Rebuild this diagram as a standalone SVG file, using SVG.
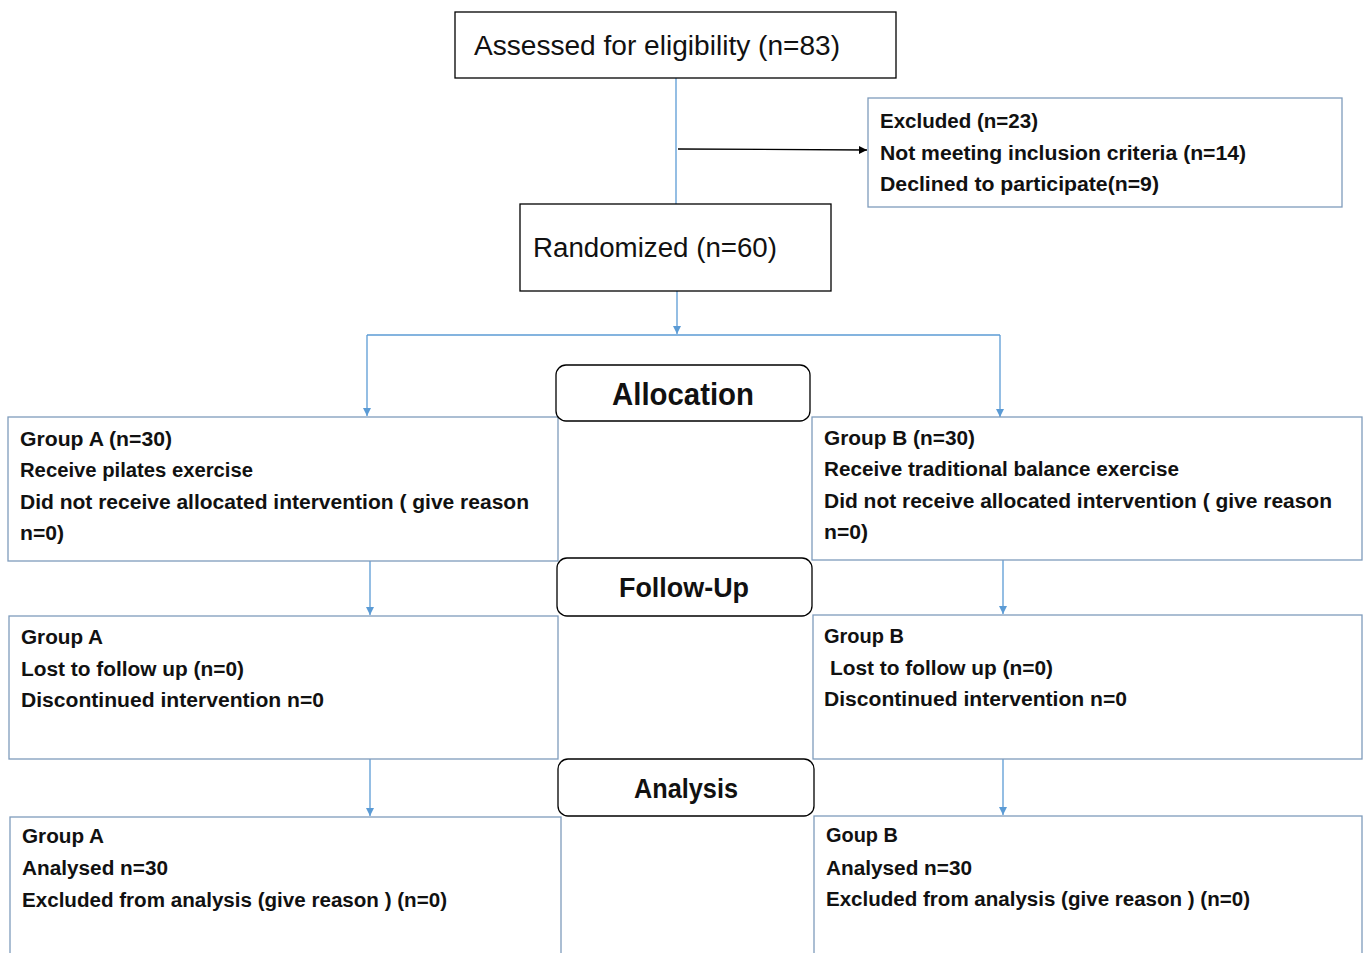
<svg xmlns="http://www.w3.org/2000/svg" width="1368" height="953" viewBox="0 0 1368 953">
<style>
.box{fill:#fff;stroke:#000;stroke-width:1.3}
.gbox{fill:#fff;stroke:#7f9cbc;stroke-width:1.3}
.rbox{fill:#fff;stroke:#000;stroke-width:1.3}
.t{font-family:"Liberation Sans",Arial,sans-serif;font-size:20px;font-weight:bold;fill:#111}
.big{font-family:"Liberation Sans",Arial,sans-serif;font-size:27px;fill:#111}
.hd{font-family:"Liberation Sans",Arial,sans-serif;font-weight:bold;fill:#111;text-anchor:middle}
.c{fill:none;stroke:#5b9bd5;stroke-width:1.3}
</style>
<defs>
<marker id="ab" markerWidth="10" markerHeight="10" refX="9" refY="5" orient="auto" markerUnits="userSpaceOnUse"><path d="M1,1 L9,5 L1,9 Z" fill="#5b9bd5"/></marker>
<marker id="ak" markerWidth="10" markerHeight="10" refX="9" refY="5" orient="auto" markerUnits="userSpaceOnUse"><path d="M1,1 L9,5 L1,9 Z" fill="#000"/></marker>
</defs>
<rect width="1368" height="953" fill="#fff"/>
<g id="connectors">
<line class="c" x1="676" y1="78" x2="676" y2="204"/>
<line x1="678" y1="149" x2="867" y2="150" stroke="#000" stroke-width="1.3" marker-end="url(#ak)"/>
<line class="c" x1="677" y1="291" x2="677" y2="334" marker-end="url(#ab)"/>
<line class="c" x1="367" y1="335" x2="1000" y2="335"/>
<line class="c" x1="367" y1="335" x2="367" y2="416" marker-end="url(#ab)"/>
<line class="c" x1="1000" y1="335" x2="1000" y2="417" marker-end="url(#ab)"/>
<line class="c" x1="370" y1="561" x2="370" y2="615" marker-end="url(#ab)"/>
<line class="c" x1="1003" y1="560" x2="1003" y2="614" marker-end="url(#ab)"/>
<line class="c" x1="370" y1="759" x2="370" y2="816" marker-end="url(#ab)"/>
<line class="c" x1="1003" y1="759" x2="1003" y2="815" marker-end="url(#ab)"/>
</g>
<g id="assessed">
<rect class="box" x="455" y="12" width="441" height="66"/>
<text class="big" x="474" y="55" textLength="366" lengthAdjust="spacingAndGlyphs">Assessed for eligibility (n=83)</text>
</g>
<g id="excluded">
<rect class="gbox" x="868" y="98" width="474" height="109"/>
<text class="t" x="880" y="128" textLength="158" lengthAdjust="spacingAndGlyphs">Excluded (n=23)</text>
<text class="t" x="880" y="160" textLength="366" lengthAdjust="spacingAndGlyphs">Not meeting inclusion criteria (n=14)</text>
<text class="t" x="880" y="191" textLength="279" lengthAdjust="spacingAndGlyphs">Declined to participate(n=9)</text>
</g>
<g id="randomized">
<rect class="box" x="520" y="204" width="311" height="87"/>
<text class="big" x="533" y="257" textLength="244" lengthAdjust="spacingAndGlyphs">Randomized (n=60)</text>
</g>
<g id="groupA-alloc">
<rect class="gbox" x="8" y="417" width="550" height="144"/>
<text class="t" x="20" y="446" textLength="152" lengthAdjust="spacingAndGlyphs">Group A (n=30)</text>
<text class="t" x="20" y="477" textLength="233" lengthAdjust="spacingAndGlyphs">Receive pilates exercise</text>
<text class="t" x="20" y="509" textLength="509" lengthAdjust="spacingAndGlyphs">Did not receive allocated intervention ( give reason</text>
<text class="t" x="20" y="540" textLength="44" lengthAdjust="spacingAndGlyphs">n=0)</text>
</g>
<g id="groupB-alloc">
<rect class="gbox" x="812" y="417" width="550" height="143"/>
<text class="t" x="824" y="445" textLength="151" lengthAdjust="spacingAndGlyphs">Group B (n=30)</text>
<text class="t" x="824" y="476" textLength="355" lengthAdjust="spacingAndGlyphs">Receive traditional balance exercise</text>
<text class="t" x="824" y="508" textLength="508" lengthAdjust="spacingAndGlyphs">Did not receive allocated intervention ( give reason</text>
<text class="t" x="824" y="539" textLength="44" lengthAdjust="spacingAndGlyphs">n=0)</text>
</g>
<g id="allocation">
<rect class="rbox" x="556" y="365" width="254" height="56" rx="10"/>
<text class="hd" x="683" y="405" font-size="32" textLength="142" lengthAdjust="spacingAndGlyphs">Allocation</text>
</g>
<g id="groupA-follow">
<rect class="gbox" x="9" y="616" width="549" height="143"/>
<text class="t" x="21" y="644" textLength="82" lengthAdjust="spacingAndGlyphs">Group A</text>
<text class="t" x="21" y="676" textLength="223" lengthAdjust="spacingAndGlyphs">Lost to follow up (n=0)</text>
<text class="t" x="21" y="707" textLength="303" lengthAdjust="spacingAndGlyphs">Discontinued intervention n=0</text>
</g>
<g id="groupB-follow">
<rect class="gbox" x="813" y="615" width="549" height="144"/>
<text class="t" x="824" y="643" textLength="80" lengthAdjust="spacingAndGlyphs">Group B</text>
<text class="t" x="830" y="675" textLength="223" lengthAdjust="spacingAndGlyphs">Lost to follow up (n=0)</text>
<text class="t" x="824" y="706" textLength="303" lengthAdjust="spacingAndGlyphs">Discontinued intervention n=0</text>
</g>
<g id="followup">
<rect class="rbox" x="557" y="558" width="255" height="58" rx="10"/>
<text class="hd" x="684" y="597" font-size="28" textLength="130" lengthAdjust="spacingAndGlyphs">Follow-Up</text>
</g>
<g id="groupA-analysis">
<rect class="gbox" x="10" y="817" width="551" height="150"/>
<text class="t" x="22" y="843" textLength="82" lengthAdjust="spacingAndGlyphs">Group A</text>
<text class="t" x="22" y="875" textLength="146" lengthAdjust="spacingAndGlyphs">Analysed n=30</text>
<text class="t" x="22" y="907" textLength="425" lengthAdjust="spacingAndGlyphs">Excluded from analysis (give reason ) (n=0)</text>
</g>
<g id="groupB-analysis">
<rect class="gbox" x="814" y="816" width="548" height="150"/>
<text class="t" x="826" y="842" textLength="72" lengthAdjust="spacingAndGlyphs">Goup B</text>
<text class="t" x="826" y="875" textLength="146" lengthAdjust="spacingAndGlyphs">Analysed n=30</text>
<text class="t" x="826" y="906" textLength="424" lengthAdjust="spacingAndGlyphs">Excluded from analysis (give reason ) (n=0)</text>
</g>
<g id="analysis">
<rect class="rbox" x="558" y="759" width="256" height="57" rx="10"/>
<text class="hd" x="686" y="798" font-size="28" textLength="104" lengthAdjust="spacingAndGlyphs">Analysis</text>
</g>
</svg>
